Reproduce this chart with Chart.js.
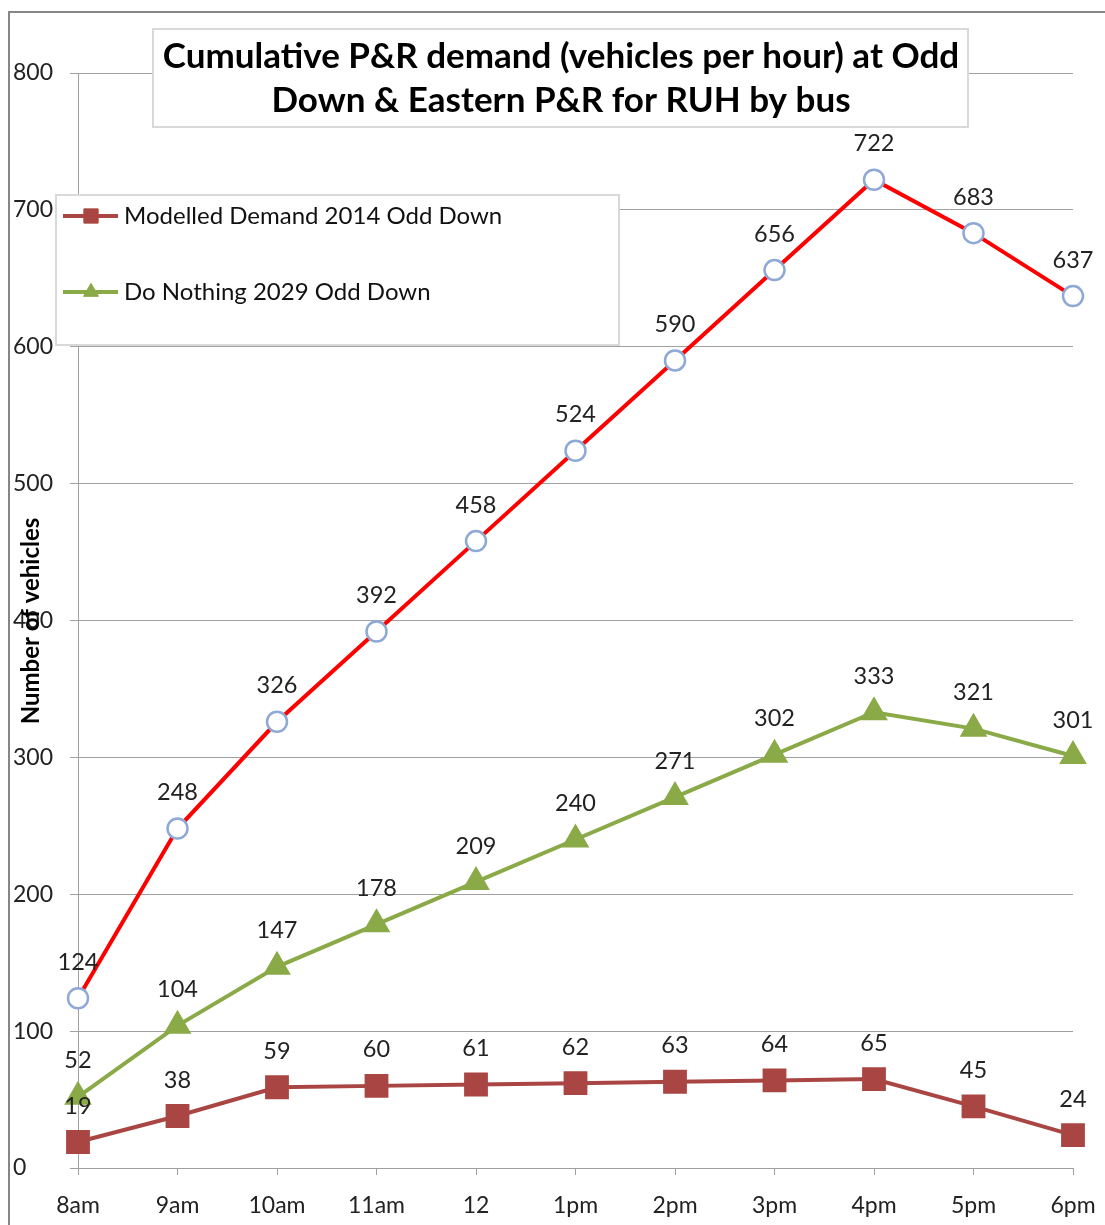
<!DOCTYPE html>
<html>
<head>
<meta charset="utf-8">
<script src="https://cdn.jsdelivr.net/npm/chart.js@4/dist/chart.umd.min.js"></script>
<style>
  html, body { margin: 0; padding: 0; background: #fff; }
  #wrap { width: 1105px; height: 1225px; position: relative; }
</style>
</head>
<body>
<div id="wrap"><canvas id="canvas1" width="1105" height="1225"></canvas></div>
<script>
// donnees
const hours = ['8am', '9am', '10am', '11am', '12', '1pm', '2pm', '3pm', '4pm', '5pm', '6pm'];
const cumulative = [124, 248, 326, 392, 458, 524, 590, 656, 722, 683, 637];
const doNothing2029 = [52, 104, 147, 178, 209, 240, 271, 302, 333, 321, 301];
const modelled2014 = [19, 38, 59, 60, 61, 62, 63, 64, 65, 45, 24];
const yTicks = [0, 100, 200, 300, 400, 500, 600, 700, 800];

const FONT = 'Lato, "Open Sans", sans-serif';
const titleLines = ['Cumulative P&R demand (vehicles per hour) at Odd', 'Down & Eastern P&R for RUH by bus'];

// cadre, titre, legende, etiquettes
const decorPlugin = {
    id: 'decor',
    afterDatasetsDraw(chart) {
        const ctx = chart.ctx;
        ctx.save();

        // etiquettes de donnees
        ctx.font = '23.5px ' + FONT;
        ctx.fillStyle = '#222';
        ctx.textAlign = 'center';
        ctx.textBaseline = 'middle';
        chart.data.datasets.forEach((ds, i) => {
            const meta = chart.getDatasetMeta(i);
            meta.data.forEach((pt, j) => {
                ctx.fillText(String(ds.data[j]), pt.x, pt.y - 36);
            });
        });

        // titre axe y
        ctx.save();
        ctx.translate(31, 621);
        ctx.rotate(-Math.PI / 2);
        ctx.font = 'bold 24px ' + FONT;
        ctx.fillStyle = '#000';
        ctx.fillText('Number of vehicles', 0, 0);
        ctx.restore();

        // boite titre
        ctx.fillStyle = '#fff';
        ctx.fillRect(153, 29, 815, 98);
        ctx.strokeStyle = '#d9d9d9';
        ctx.lineWidth = 2;
        ctx.strokeRect(153, 29, 815, 98);
        ctx.fillStyle = '#000';
        ctx.font = 'bold 35px ' + FONT;
        ctx.fillText(titleLines[0], 561, 57);
        ctx.fillText(titleLines[1], 561, 101);

        // boite legende
        ctx.fillStyle = '#fff';
        ctx.fillRect(56, 195, 563, 150);
        ctx.strokeStyle = '#d9d9d9';
        ctx.strokeRect(56, 195, 563, 150);
        const items = [[0, 216], [1, 292]];
        items.forEach(([idx, y]) => {
            const ds = chart.data.datasets[idx];
            ctx.strokeStyle = ds.borderColor;
            ctx.lineWidth = 4;
            ctx.beginPath();
            ctx.moveTo(63, y);
            ctx.lineTo(118, y);
            ctx.stroke();
            ctx.fillStyle = ds.pointBackgroundColor;
            ctx.strokeStyle = ds.pointBorderColor;
            ctx.lineWidth = 1;
            Chart.helpers.drawPoint(ctx, {pointStyle: ds.pointStyle, rotation: 0, borderWidth: 1, radius: ds.pointRadius * 0.72}, 91, y);
            ctx.fillStyle = '#111';
            ctx.font = '24px ' + FONT;
            ctx.textAlign = 'left';
            ctx.fillText(ds.label, 124, y);
        });

        // cadre exterieur
        ctx.strokeStyle = '#868686';
        ctx.lineWidth = 2;
        ctx.beginPath();
        ctx.moveTo(9, 1225);
        ctx.lineTo(9, 12);
        ctx.lineTo(1105, 12);
        ctx.stroke();
        ctx.restore();
    }
};

let ctx1 = document.getElementById('canvas1').getContext('2d');

let config = {
    type: 'line',
    data: {
        labels: hours,
        datasets: [{
            label: 'Modelled Demand 2014 Odd Down',
            data: modelled2014,
            borderColor: '#a94643',
            backgroundColor: '#a94643',
            pointBackgroundColor: '#a94643',
            pointBorderColor: '#a94643',
            pointStyle: 'rect',
            pointRadius: 14,
            borderWidth: 4
        }, {
            label: 'Do Nothing 2029 Odd Down',
            data: doNothing2029,
            borderColor: '#8aaa48',
            backgroundColor: '#8aaa48',
            pointBackgroundColor: '#8aaa48',
            pointBorderColor: '#8aaa48',
            pointStyle: 'triangle',
            pointRadius: 12,
            borderWidth: 4
        }, {
            label: 'Cumulative',
            data: cumulative,
            borderColor: '#ff0000',
            backgroundColor: '#fff',
            pointBackgroundColor: '#fff',
            pointBorderColor: '#8ea9d6',
            pointBorderWidth: 2.5,
            pointStyle: 'circle',
            pointRadius: 10,
            borderWidth: 4
        }]
    },
    options: {
        responsive: false,
        animation: false,
        layout: { padding: { top: 73, right: 32, left: 13, bottom: 0 } },
        plugins: {
            legend: { display: false },
            title: { display: false },
            tooltip: { enabled: false }
        },
        scales: {
            x: {
                offset: false,
                grid: { drawOnChartArea: false, drawTicks: true, tickLength: 7, color: '#a0a0a0' },
                border: { color: '#a0a0a0', width: 1 },
                ticks: { font: { family: FONT, size: 23 }, color: '#222', padding: 17, maxRotation: 0, autoSkip: false },
                afterFit(scale) {
                    scale.height = 57;
                    scale.paddingLeft = 0;
                    scale.paddingRight = 0;
                }
            },
            y: {
                min: 0,
                max: 800,
                afterBuildTicks(scale) { scale.ticks = yTicks.map(v => ({ value: v })); },
                grid: { color: '#a0a0a0', drawTicks: true, tickLength: 8 },
                border: { color: '#a0a0a0', width: 1 },
                ticks: { font: { family: FONT, size: 23 }, color: '#222', crossAlign: 'far', padding: 6 },
                afterFit(scale) { scale.width = 65; }
            }
        }
    },
    plugins: [decorPlugin]
};

let chart1 = new Chart(ctx1, config);
</script>
</body>
</html>
